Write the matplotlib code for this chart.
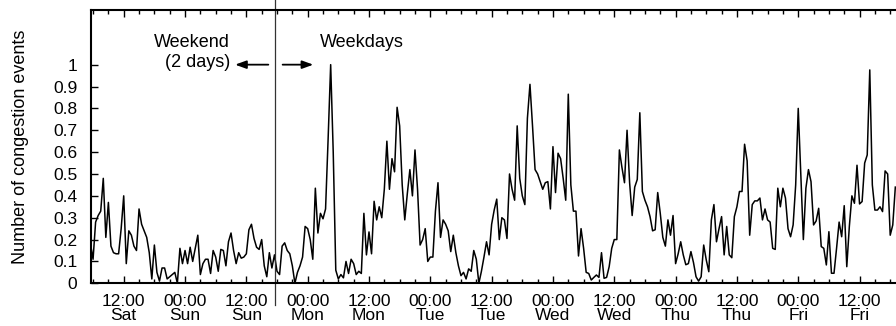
import matplotlib
matplotlib.use('Agg')
import matplotlib.pyplot as plt
from matplotlib.ticker import MultipleLocator
import numpy as np

plt.rcParams['font.family'] = ['Liberation Sans', 'DejaVu Sans']

# half-hourly samples, hours counted from Sat 00:00
start_hour = 5.5
step_hours = 0.5
events = [
    0.18, 0.11, 0.28, 0.31, 0.33, 0.48, 0.21, 0.37, 0.17, 0.14,
    0.135, 0.135, 0.25, 0.40, 0.09, 0.24, 0.22, 0.17, 0.15, 0.34,
    0.27, 0.24, 0.21, 0.14, 0.02, 0.175, 0.05, 0.01, 0.07, 0.07,
    0.02, 0.03, 0.04, 0.05, 0.0, 0.16, 0.09, 0.15, 0.09, 0.165,
    0.10, 0.16, 0.22, 0.04, 0.09, 0.11, 0.11, 0.045, 0.15, 0.12,
    0.055, 0.155, 0.15, 0.08, 0.19, 0.23, 0.15, 0.09, 0.14, 0.115,
    0.12, 0.135, 0.245, 0.27, 0.205, 0.165, 0.155, 0.2, 0.08, 0.03,
    0.14, 0.07, 0.13, 0.055, 0.04, 0.17, 0.185, 0.15, 0.135, 0.08,
    0.0, 0.05, 0.08, 0.12, 0.26, 0.25, 0.2, 0.11, 0.435, 0.23,
    0.32, 0.295, 0.34, 0.66, 1.0, 0.6, 0.06, 0.02, 0.04, 0.025,
    0.1, 0.045, 0.11, 0.09, 0.04, 0.055, 0.045, 0.32, 0.13, 0.235,
    0.135, 0.375, 0.29, 0.35, 0.3, 0.43, 0.65, 0.43, 0.57, 0.51,
    0.805, 0.72, 0.45, 0.29, 0.41, 0.52, 0.40, 0.61, 0.43, 0.175,
    0.2, 0.25, 0.10, 0.12, 0.12, 0.33, 0.46, 0.21, 0.29, 0.27,
    0.24, 0.145, 0.22, 0.14, 0.08, 0.035, 0.05, 0.02, 0.066, 0.055,
    0.15, 0.11, 0.0, 0.055, 0.12, 0.19, 0.13, 0.27, 0.335, 0.385,
    0.2, 0.3, 0.29, 0.205, 0.5, 0.43, 0.38, 0.72, 0.48, 0.4,
    0.36, 0.755, 0.91, 0.72, 0.52, 0.5, 0.465, 0.43, 0.46, 0.465,
    0.34, 0.625, 0.415, 0.595, 0.57, 0.48, 0.38, 0.865, 0.45, 0.33,
    0.33, 0.125, 0.25, 0.16, 0.05, 0.045, 0.015, 0.027, 0.038, 0.027,
    0.14, 0.023, 0.027, 0.076, 0.16, 0.2, 0.2, 0.61, 0.53, 0.46,
    0.70, 0.46, 0.31, 0.44, 0.475, 0.78, 0.42, 0.38, 0.35, 0.305,
    0.24, 0.245, 0.415, 0.32, 0.21, 0.17, 0.29, 0.22, 0.31, 0.09,
    0.135, 0.19, 0.13, 0.085, 0.09, 0.145, 0.095, 0.03, 0.01, 0.03,
    0.175, 0.107, 0.053, 0.29, 0.36, 0.19, 0.25, 0.305, 0.13, 0.26,
    0.13, 0.117, 0.305, 0.35, 0.42, 0.42, 0.636, 0.56, 0.22, 0.36,
    0.377, 0.377, 0.39, 0.29, 0.34, 0.29, 0.28, 0.16, 0.155, 0.435,
    0.35, 0.435, 0.39, 0.25, 0.213, 0.267, 0.45, 0.8, 0.5, 0.2,
    0.435, 0.52, 0.465, 0.267, 0.285, 0.343, 0.168, 0.16, 0.084, 0.236,
    0.046, 0.046, 0.16, 0.28, 0.213, 0.355, 0.076, 0.26, 0.4, 0.366,
    0.54, 0.363, 0.374, 0.55, 0.587, 0.976, 0.45, 0.335, 0.335, 0.35,
    0.328, 0.514, 0.5, 0.22, 0.267, 0.44,
]

tick_hours = [12, 24, 36, 48, 60, 72, 84, 96, 108, 120, 132, 144, 156]
tick_labels = ['12:00\nSat', '00:00\nSun', '12:00\nSun', '00:00\nMon',
               '12:00\nMon', '00:00\nTue', '12:00\nTue', '00:00\nWed',
               '12:00\nWed', '00:00\nThu', '12:00\nThu', '00:00\nFri',
               '12:00\nFri']
y_ticks = [0, 0.1, 0.2, 0.3, 0.4, 0.5, 0.6, 0.7, 0.8, 0.9, 1.0]
y_labels = ['0', '0.1', '0.2', '0.3', '0.4', '0.5', '0.6', '0.7', '0.8', '0.9', '1']
weekend_end = 41.7

hours = start_hour + step_hours * np.arange(len(events))

fig = plt.figure(figsize=(8.96, 3.26), dpi=100)
# axes runs past the right edge of the picture (cropped chart)
ax = fig.add_axes([90.5 / 896, 42.7 / 326, (920 - 90.5) / 896, 273.3 / 326])

ax.plot(hours, events, color='black', lw=1.1)

ax.set_xlim(5.5, 5.5 + (920 - 90.5) / 5.11)
ax.set_ylim(0, 1.25)

ax.set_xticks(tick_hours)
ax.set_xticklabels(tick_labels, fontsize=12.5)
ax.xaxis.set_minor_locator(MultipleLocator(3))
ax.set_yticks(y_ticks)
ax.set_yticklabels(y_labels, fontsize=12.5)
for lbl in ax.get_xticklabels():
    lbl.set_linespacing(0.92)

ax.tick_params(axis='both', which='both', direction='in', top=True, right=False,
               width=1.0, color='black')
ax.tick_params(axis='both', which='major', length=5)
ax.tick_params(axis='x', which='minor', length=3)
ax.tick_params(axis='x', which='major', pad=7.5)
ax.tick_params(axis='y', which='major', pad=9.5)

for side in ['left', 'top', 'bottom']:
    ax.spines[side].set_linewidth(1.5)
ax.spines['right'].set_visible(False)

ax.set_ylabel('Number of congestion events', fontsize=13)
ax.yaxis.set_label_coords((29 - 90.5) / 829.5, 0.5)

# weekend / weekdays split
ax.plot([weekend_end, weekend_end], [-0.1, 1.3], color='#333333', lw=0.9, clip_on=False)

ax.text(32.8, 1.10, 'Weekend', fontsize=13, ha='right', va='center')
ax.text(32.8, 1.008, '(2 days)', fontsize=13, ha='right', va='center')
ax.text(50.3, 1.10, 'Weekdays', fontsize=13, ha='left', va='center')

arrow = dict(arrowstyle='-|>,head_length=0.55,head_width=0.2', color='black',
             lw=1.3, mutation_scale=12, shrinkA=0, shrinkB=0)
ax.annotate('', xy=(33.8, 1.0), xytext=(40.3, 1.0), arrowprops=arrow)
ax.annotate('', xy=(49.1, 1.0), xytext=(43.1, 1.0), arrowprops=arrow)

fig.savefig('out.png', dpi=100)
